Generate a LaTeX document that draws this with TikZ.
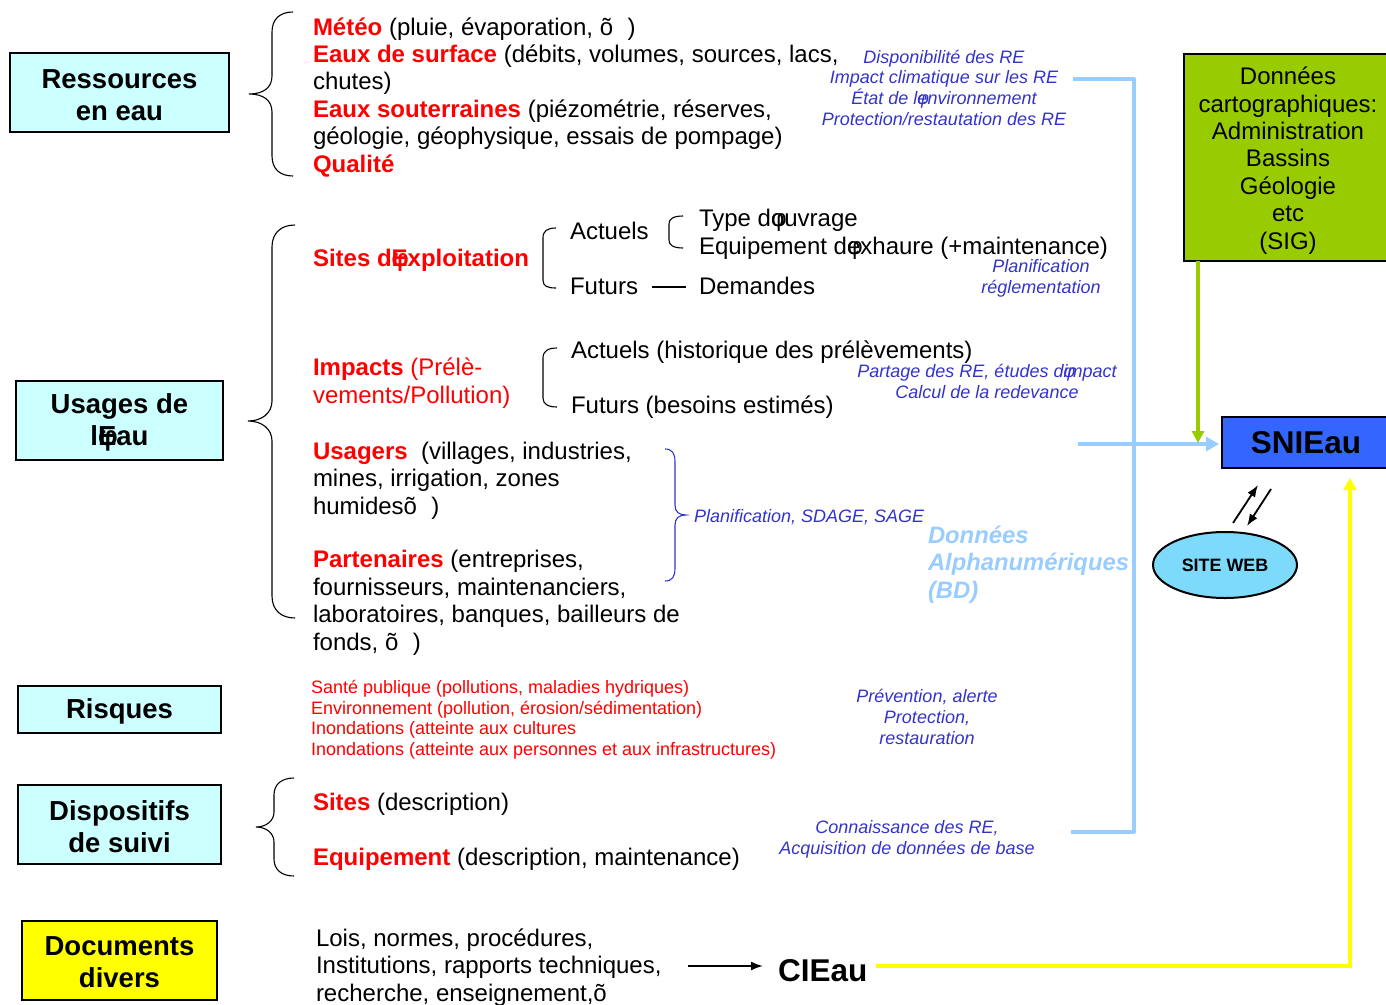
\documentclass[tikz,border=0pt]{standalone}
\usepackage{fontspec}
\setmainfont{Liberation Sans}
\usetikzlibrary{arrows.meta,shapes.geometric}
\definecolor{rd}{RGB}{255,0,0}
\definecolor{bl}{RGB}{51,51,204}
\definecolor{lb}{RGB}{153,204,255}
\definecolor{gr}{RGB}{153,204,0}
\definecolor{sn}{RGB}{51,102,255}
\definecolor{cy}{RGB}{204,255,255}
\definecolor{ye}{RGB}{255,255,0}
\definecolor{sw}{RGB}{125,218,250}
\newcommand\gq{\rlap{φ}}
\newcommand\rb[1]{\textcolor{rd}{\bfseries #1}}
\begin{document}
\begin{tikzpicture}[x=1pt,y=-1pt,
  every node/.style={inner sep=0pt, outer sep=0pt},
  lbox/.style={draw=black, line width=1.5pt, fill=cy},
  ltxt/.style={align=center, font=\fontsize{27.5}{32}\selectfont\bfseries},
  main/.style={anchor=base west, align=left, font=\fontsize{24}{27.4}\selectfont},
  note/.style={anchor=base, align=center, text=bl, font=\fontsize{18}{20.6}\selectfont\itshape},
  brc/.style={line width=1.1pt, black},
  bbrc/.style={line width=1.1pt, bl},
  lbline/.style={draw=lb, line width=4pt},
]
\useasboundingbox (0,0) rectangle (1386,1004);

% left boxes
\node[lbox, minimum width=219pt, minimum height=79pt] (res) at (119.5,92.5) {};
\node[ltxt] (rest) at ([yshift=-3pt]res.center) {Ressources\\en eau};
\node[lbox, minimum width=207pt, minimum height=79pt] (usg) at (119.5,420.5) {};
\node[ltxt] (usgt) at ([yshift=-2pt]usg.center) {Usages de\\l\gq Eau};
\node[lbox, minimum width=203pt, minimum height=47pt] (rsq) at (119.5,709.5) {};
\node[ltxt] (rsqt) at ([yshift=-2pt]rsq.center) {Risques};
\node[lbox, minimum width=203pt, minimum height=79pt] (dis) at (119.5,824.5) {};
\node[ltxt] (dist) at ([yshift=-2pt]dis.center) {Dispositifs\\de suivi};
\node[lbox, fill=ye, minimum width=195pt, minimum height=79pt] (doc) at (119.5,960.5) {};
\node[ltxt] (doct) at ([yshift=-2pt]doc.center) {Documents\\divers};

% braces
\draw[brc] (293,12) .. controls (280,12) and (272,19) .. (272,32) -- (272,76) .. controls (272,88) and (263,94) .. (249,94) .. controls (263,94) and (272,100) .. (272,112) -- (272,156) .. controls (272,169) and (280,176) .. (293,176);
\draw[brc] (295,225) .. controls (281,225) and (272,233) .. (272,247) -- (272,401) .. controls (272,413) and (262,421) .. (248,421) .. controls (262,421) and (272,429) .. (272,441) -- (272,596) .. controls (272,610) and (281,618) .. (295,618);
\draw[brc] (294,778) .. controls (282,778) and (274,784) .. (274,795) -- (274,812) .. controls (274,821) and (266,827) .. (256,827) .. controls (266,827) and (274,833) .. (274,842) -- (274,859) .. controls (274,870) and (282,876) .. (294,876);
% small brackets
\draw[brc] (556,228) .. controls (547,228) and (543,231) .. (543,238) -- (543,280) .. controls (543,286) and (547,288) .. (556,288);
\draw[brc] (683,216) .. controls (673,216) and (669,219) .. (669,224) -- (669,240) .. controls (669,245) and (673,248) .. (683,248);
\draw[brc] (557,348) .. controls (548,348) and (543,351) .. (543,358) -- (543,398) .. controls (543,404) and (548,407) .. (557,407);
\draw[bbrc] (665,449) .. controls (672,449) and (675,453) .. (675,462) -- (675,505) .. controls (675,512) and (679,515) .. (686,515) .. controls (679,515) and (675,518) .. (675,525) -- (675,568) .. controls (675,577) and (672,581) .. (665,581);

% Ressources text (base anchor = last line)
\node[main] (met) at (313,172) {\rb{Météo} (pluie, évaporation, õ\hspace{0.6em})\\\rb{Eaux de surface} (débits, volumes, sources, lacs,\\chutes)\\\rb{Eaux souterraines} (piézométrie, réserves,\\géologie, géophysique, essais de pompage)\\\rb{Qualité}};
\node[note] (n1) at (944,125) {Disponibilité des RE\\Impact climatique sur les RE\\État de l\gq environnement\\Protection/restautation des RE};

% Usages text
\node[main] (sit) at (313,266) {\rb{Sites d\gq Exploitation}};
\node[main] (act) at (570,239) {Actuels};
\node[main] (fut) at (570,294) {Futurs};
\node[main] (typ) at (699,254) {Type d\gq ouvrage\\Equipement d\gq exhaure (+maintenance)};
\node[main] (dem) at (699,294) {Demandes};
\draw[line width=1.2pt] (652,287) -- (686,287);
\node[note] (n2) at (1041,293) {Planification\\réglementation};

\node[main, text=rd] (imp) at (313,403) {\textbf{Impacts} (Prélè-\\vements/Pollution)};
\node[main] (hist) at (571,358) {Actuels (historique des prélèvements)};
\node[main] (bes) at (571,413) {Futurs (besoins estimés)};
\node[note] (n3) at (987,398) {Partage des RE, études d\gq impact\\Calcul de la redevance};

\node[main] (usa) at (313,514) {\rb{Usagers}\ \ (villages, industries,\\mines, irrigation, zones\\humidesõ\hspace{0.6em})};
\node[main] (par) at (313,650) {\rb{Partenaires} (entreprises,\\fournisseurs, maintenanciers,\\laboratoires, banques, bailleurs de\\fonds, õ\hspace{0.6em})};
\node[note, anchor=base west] (n4) at (694,522) {Planification, SDAGE, SAGE};
\node[anchor=base west, align=left, text=lb, font=\fontsize{23.8}{27.5}\selectfont\bfseries\itshape] (bd) at (928,598) {Données\\Alphanumériques\\(BD)};

% Risques
\node[anchor=base west, align=left, text=rd, font=\fontsize{18}{20.4}\selectfont] (ris) at (311,755) {Santé publique (pollutions, maladies hydriques)\\Environnement (pollution, érosion/sédimentation)\\Inondations (atteinte aux cultures\\Inondations (atteinte aux personnes et aux infrastructures)};
\node[note] (n5) at (927,744) {Prévention, alerte\\Protection,\\restauration};

% Dispositifs
\node[main] (sd) at (313,810) {\rb{Sites} (description)};
\node[main] (eq) at (313,865) {\rb{Equipement} (description, maintenance)};
\node[note] (n6) at (907,854) {Connaissance des RE,\\Acquisition de données de base};

% Documents
\node[main] (lois) at (316,1001) {Lois, normes, procédures,\\Institutions, rapports techniques,\\recherche, enseignement,õ};
\node[anchor=base west, font=\fontsize{31.5}{36}\selectfont\bfseries] (cie) at (778,981) {CIEau};

% right side
\node[draw, line width=1.2pt, fill=gr, minimum width=208pt, minimum height=207pt] (sig) at (1288,157.5) {};
\node[align=center, font=\fontsize{24}{27.4}\selectfont] (sigt) at ([yshift=-3pt]sig.center) {Données\\cartographiques:\\Administration\\Bassins\\Géologie\\etc\\(SIG)};
\node[draw, line width=1.5pt, fill=sn, minimum width=168pt, minimum height=51pt, font=\fontsize{31.5}{36}\selectfont\bfseries] (sni) at (1306,442.5) {SNIEau};
\node[ellipse, draw, line width=2pt, fill=sw, minimum width=144pt, minimum height=66pt, font=\fontsize{17.9}{21}\selectfont\bfseries] (web) at (1225,565) {SITE WEB};

% connectors
\coordinate (b1) at (1073,79);
\coordinate (b2) at (1071,832);
\draw[lbline, line join=round] (b1) -- (1134,79) -- (1134,832) -- (b2);
\coordinate (b3) at (1078,444);
\draw[lb, line width=4pt, -{Triangle[length=13pt,width=14pt]}] (b3) -- ([xshift=-3pt,yshift=-1.5pt]sni.west);
\draw[gr, line width=4pt, -{Triangle[length=12pt,width=12pt]}] ([xshift=14pt]sig.south west) -- (1198,443);
\coordinate (y1) at (876,966);
\draw[ye, line width=4pt, -{Triangle[length=12pt,width=13pt]}] (y1) -- (1350,966) -- ([yshift=-10pt]sni.south -| 1350,0);
\coordinate (l1) at (688,966);
\draw[line width=1.8pt, -{Latex[length=12pt,width=9pt]}] (l1) -- ([xshift=-15pt]cie.west |- l1);
\coordinate (w1) at (1233,523);
\coordinate (w2) at (1258,485);
\coordinate (w3) at (1271,489);
\coordinate (w4) at (1247,526);
\draw[line width=1.8pt, -{Latex[length=12pt,width=9pt]}] (w1) -- (w2);
\draw[line width=1.8pt, -{Latex[length=12pt,width=9pt]}] (w3) -- (w4);
\end{tikzpicture}
\end{document}
